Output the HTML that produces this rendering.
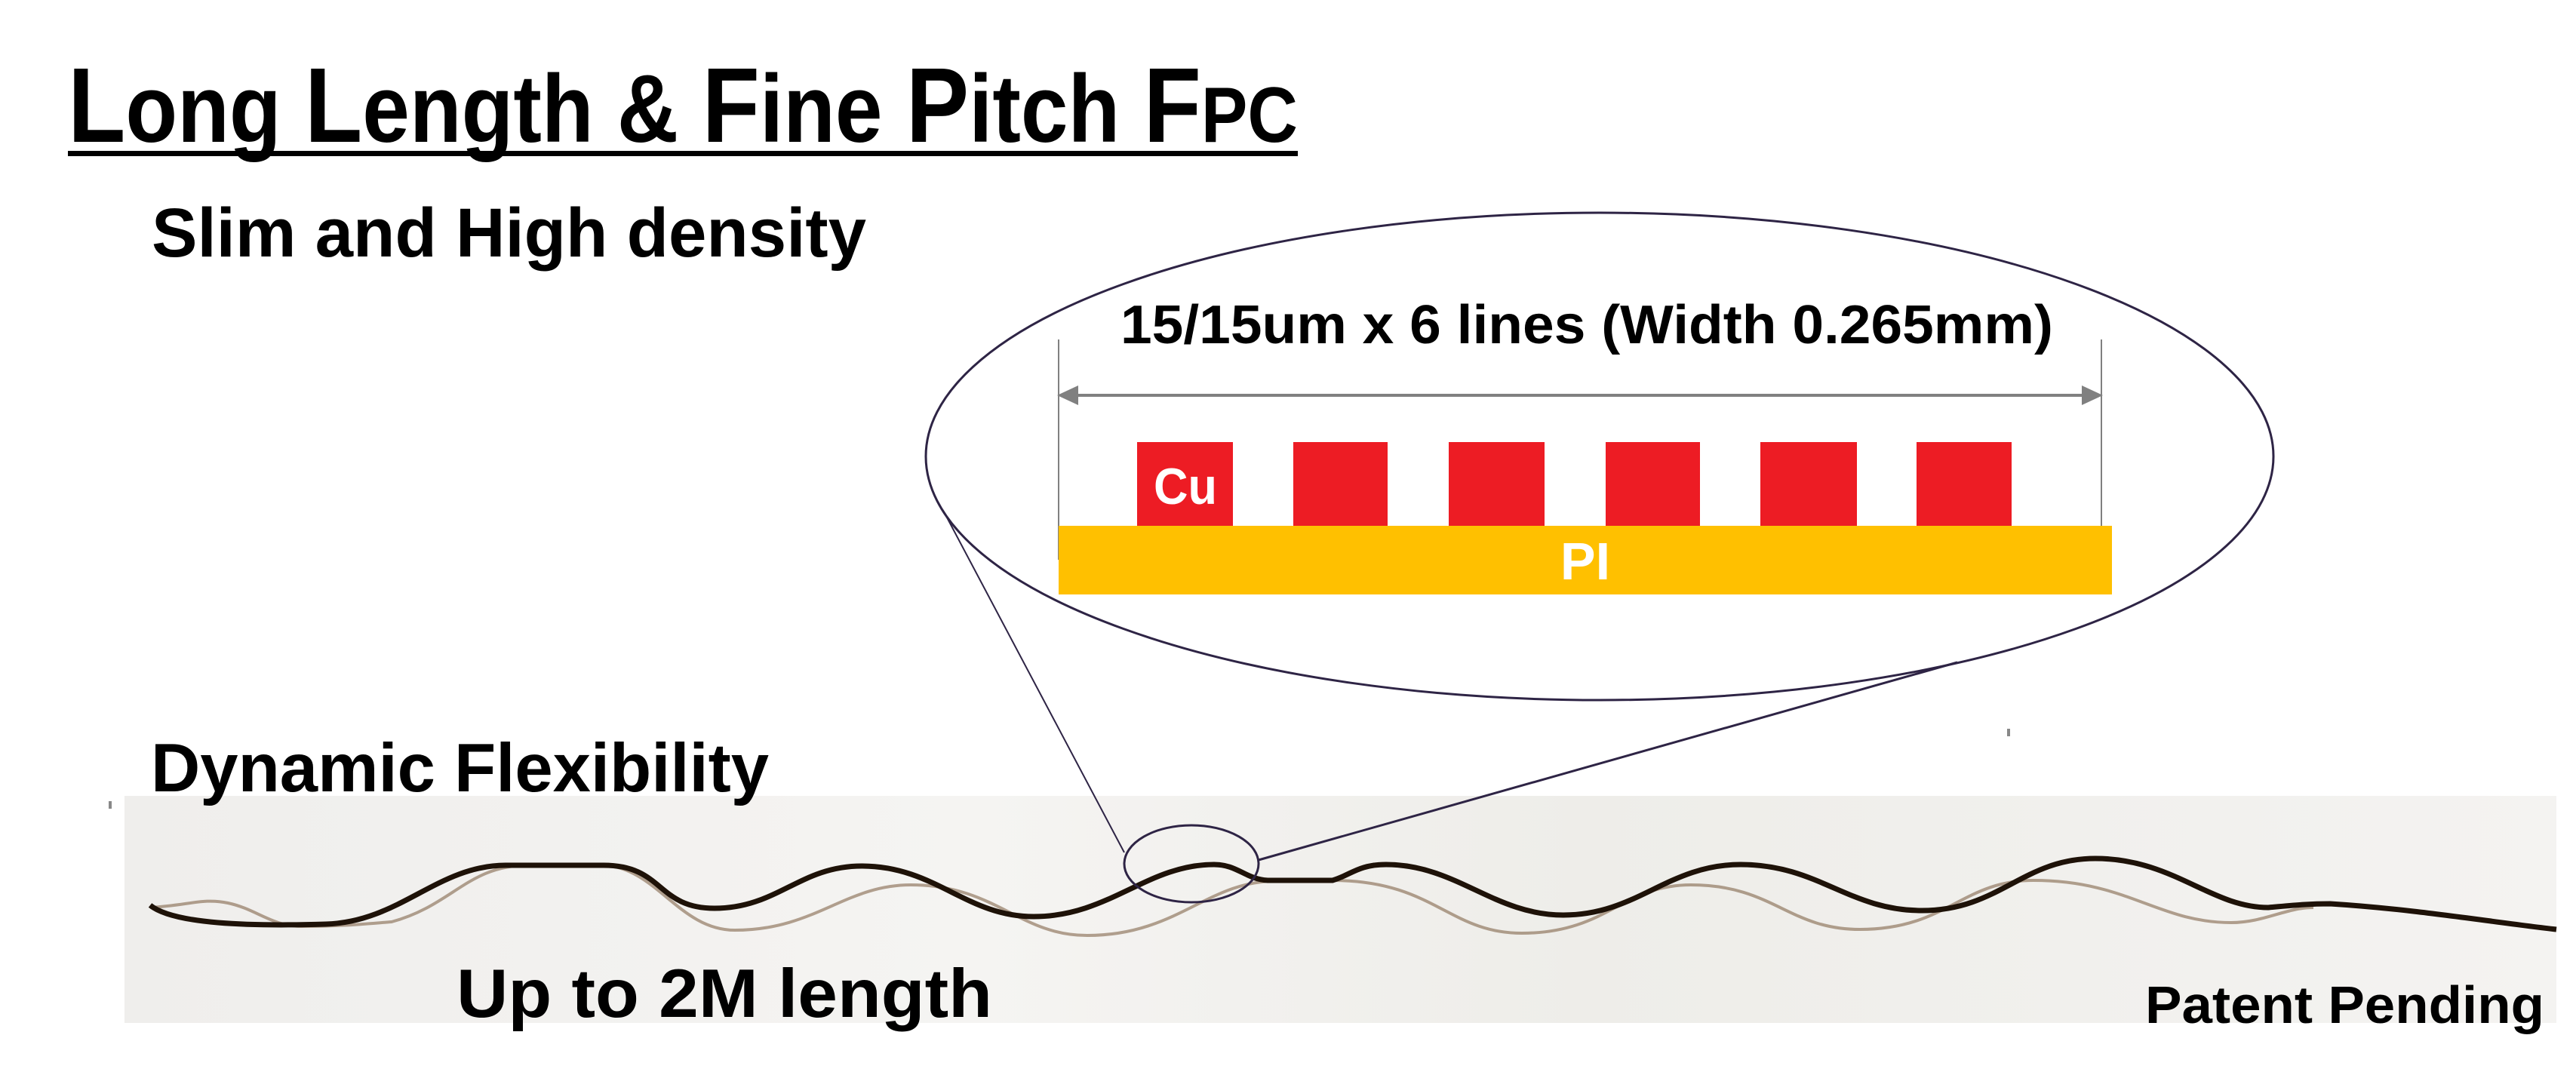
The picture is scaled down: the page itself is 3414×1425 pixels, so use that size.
<!DOCTYPE html>
<html><head><meta charset="utf-8"><style>html,body{margin:0;padding:0;background:#fff}svg{display:block}</style></head>
<body>
<svg width="3414" height="1425" viewBox="0 0 3414 1425" xmlns="http://www.w3.org/2000/svg" font-family="Liberation Sans, sans-serif" font-weight="bold">
<defs>
<linearGradient id="bg" x1="0" x2="1" y1="0" y2="0">
<stop offset="0" stop-color="#efeeec"/><stop offset="0.35" stop-color="#f5f4f2"/><stop offset="0.6" stop-color="#eeede9"/><stop offset="1" stop-color="#f4f3f1"/>
</linearGradient>
</defs>
<rect width="3414" height="1425" fill="#fff"/>
<rect x="165" y="1055" width="3223" height="301" fill="url(#bg)"/>
<!-- ghost wave -->
<path d="M199,1203 C250,1200 270,1190 302,1197 C340,1205 360,1228 400,1228 C450,1228 480,1225 519,1222 C600,1200 620,1147 700,1147 L800,1147 C870,1150 900,1233 974,1233 C1080,1233 1120,1173 1207,1173 C1320,1173 1350,1240 1441,1240 C1560,1240 1600,1168 1690,1168 L1766,1167 C1900,1167 1920,1237 2017,1237 C2130,1237 2150,1173 2241,1173 C2350,1173 2370,1232 2465,1232 C2580,1232 2600,1167 2695,1167 C2820,1167 2860,1223 2957,1223 C3000,1223 3030,1203 3066,1203" fill="none" stroke="#6b4a2a" stroke-width="4" opacity="0.5"/>
<!-- main wave -->
<path d="M199,1200 C230,1225 330,1228 432,1225 C530,1222 580,1147 670,1147 L800,1147 C880,1147 870,1204 947,1204 C1030,1204 1060,1148 1142,1148 C1240,1148 1280,1215 1370,1215 C1470,1215 1520,1146 1609,1146 C1640,1146 1650,1165 1680,1167 L1766,1167 C1790,1160 1800,1146 1837,1146 C1930,1146 1980,1213 2072,1213 C2170,1213 2210,1146 2307,1146 C2410,1146 2450,1207 2547,1207 C2650,1207 2680,1138 2777,1138 C2880,1138 2930,1203 3006,1203 C3040,1200 3060,1198 3088,1198 C3200,1205 3300,1222 3388,1232" fill="none" stroke="#1e1208" stroke-width="7"/>
<!-- title -->
<text x="90" y="188" textLength="1630" lengthAdjust="spacingAndGlyphs" fill="#000"><tspan font-size="141">L</tspan><tspan font-size="127">ong </tspan><tspan font-size="141">L</tspan><tspan font-size="127">ength &amp; </tspan><tspan font-size="141">F</tspan><tspan font-size="127">ine </tspan><tspan font-size="141">P</tspan><tspan font-size="127">itch </tspan><tspan font-size="141">F</tspan><tspan font-size="104">PC</tspan></text>
<rect x="90" y="200" width="1630" height="7" fill="#000"/>
<text x="201" y="340" font-size="92" textLength="947" lengthAdjust="spacingAndGlyphs">Slim and High density</text>
<!-- big ellipse -->
<ellipse cx="2120" cy="605" rx="893" ry="323" fill="none" stroke="#2e2445" stroke-width="3"/>
<text x="1485" y="455" font-size="72" textLength="1236" lengthAdjust="spacingAndGlyphs">15/15um x 6 lines (Width 0.265mm)</text>
<line x1="1403" y1="450" x2="1403" y2="742" stroke="#808080" stroke-width="2"/>
<line x1="2785" y1="450" x2="2785" y2="742" stroke="#808080" stroke-width="2"/>
<line x1="1420" y1="524" x2="2768" y2="524" stroke="#808080" stroke-width="4"/>
<polygon points="1401,524 1429,511 1429,537" fill="#808080"/>
<polygon points="2787,524 2759,511 2759,537" fill="#808080"/>
<g fill="#ED1C24">
<rect x="1507" y="586" width="127" height="112"/>
<rect x="1714" y="586" width="125" height="112"/>
<rect x="1920" y="586" width="127" height="112"/>
<rect x="2128" y="586" width="125" height="112"/>
<rect x="2333" y="586" width="128" height="112"/>
<rect x="2540" y="586" width="126" height="112"/>
</g>
<rect x="1403" y="697" width="1396" height="91" fill="#FFC000"/>
<text x="1529" y="668" font-size="68" fill="#fff" textLength="84" lengthAdjust="spacingAndGlyphs">Cu</text>
<text x="2101" y="768" font-size="70" fill="#fff" text-anchor="middle">PI</text>
<!-- connector lines -->
<line x1="1255" y1="686" x2="1490" y2="1130" stroke="#2e2445" stroke-width="2"/>
<line x1="2594" y1="878" x2="1668" y2="1140" stroke="#2e2445" stroke-width="3"/>
<ellipse cx="1579" cy="1145" rx="89" ry="51" fill="none" stroke="#2e2445" stroke-width="3"/>
<rect x="144" y="1062" width="4" height="10" fill="#888"/>
<rect x="2660" y="966" width="4" height="10" fill="#888"/>
<text x="200" y="1049" font-size="91" textLength="819" lengthAdjust="spacingAndGlyphs">Dynamic Flexibility</text>
<text x="605" y="1348" font-size="91" textLength="710" lengthAdjust="spacingAndGlyphs">Up to 2M length</text>
<text x="2843" y="1356" font-size="70" textLength="529" lengthAdjust="spacingAndGlyphs">Patent Pending</text>
</svg>
</body></html>
